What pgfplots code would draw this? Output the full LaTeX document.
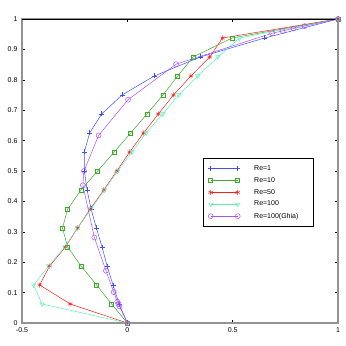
\documentclass[border=0pt]{standalone}
\usepackage{pgfplots}
\pgfplotsset{compat=1.18}
\usepackage{fontspec}
\setmainfont{Liberation Sans}

\definecolor{cRe1}{RGB}{60,80,255}
\definecolor{cRe10}{RGB}{60,170,40}
\definecolor{cRe50}{RGB}{255,30,30}
\definecolor{cRe100}{RGB}{90,240,180}
\definecolor{cGhia}{RGB}{170,80,255}

\begin{document}
\begin{tikzpicture}
\begin{axis}[
  scale only axis,
  width=316pt, height=304pt,
  xmin=-0.5, xmax=1, ymin=0, ymax=1,
  xtick={-0.5,0,0.5,1},
  ytick={0,0.1,0.2,0.3,0.4,0.5,0.6,0.7,0.8,0.9,1},
  xticklabels={-0.5,0,0.5,1},
  yticklabels={0,0.1,0.2,0.3,0.4,0.5,0.6,0.7,0.8,0.9,1},
  tick align=inside,
  major tick length=3pt,
  tick style={black, line width=0.4pt},
  axis line style={draw=gray!85, line width=1.3pt},
  tick label style={font=\fontsize{7}{8}\selectfont},
  yticklabel style={xshift=-1pt},
  xticklabel style={yshift=-1pt},
  every axis plot/.append style={line width=0.5pt, mark size=2.5pt},
  legend cell align=left,
  legend style={at={(axis cs:0.359,0.542)}, anchor=north west,
    draw=black, line width=0.5pt, font=\fontsize{7}{8}\selectfont,
    inner xsep=5pt, inner ysep=5pt, row sep=1.5pt, column sep=12pt},
  legend image code/.code={\draw[#1] plot coordinates {(0pt,0pt) (27pt,0pt)};},
]
% Re=1
\addplot[color=cRe1, mark=+] coordinates {
 (0,0) (-0.039,0.0625) (-0.068,0.125) (-0.096,0.1875) (-0.120,0.25)
 (-0.147,0.3125) (-0.172,0.375) (-0.191,0.4375) (-0.204,0.5)
 (-0.204,0.5625) (-0.179,0.625) (-0.122,0.6875) (-0.025,0.75)
 (0.128,0.8125) (0.346,0.875) (0.652,0.9375) (1,1)};
% Re=10
\addplot[color=cRe10, mark=square, mark size=2pt] coordinates {
 (0,0) (-0.074,0.0625) (-0.146,0.125) (-0.220,0.1875) (-0.283,0.25)
 (-0.308,0.3125) (-0.283,0.375) (-0.220,0.4375) (-0.141,0.5)
 (-0.062,0.5625) (0.016,0.625) (0.093,0.6875) (0.169,0.75)
 (0.239,0.8125) (0.312,0.875) (0.497,0.9375) (1,1)};
% Re=50
\addplot[color=cRe50, mark=asterisk] coordinates {
 (0,0) (-0.271,0.0625) (-0.416,0.125) (-0.369,0.1875) (-0.294,0.25)
 (-0.236,0.3125) (-0.176,0.375) (-0.112,0.4375) (-0.050,0.5)
 (0.011,0.5625) (0.077,0.625) (0.147,0.6875) (0.219,0.75)
 (0.302,0.8125) (0.391,0.875) (0.452,0.9375) (1,1)};
% Re=100
\addplot[color=cRe100, mark=triangle, mark options={rotate=180}] coordinates {
 (0,0) (-0.405,0.0625) (-0.445,0.125) (-0.373,0.1875) (-0.297,0.25)
 (-0.236,0.3125) (-0.172,0.375) (-0.109,0.4375) (-0.046,0.5)
 (0.022,0.5625) (0.089,0.625) (0.168,0.6875) (0.244,0.75)
 (0.334,0.8125) (0.430,0.875) (0.533,0.9375) (1,1)};
% Re=100 (Ghia)
\addplot[color=cGhia, mark=o] coordinates {
 (0,0) (-0.03717,0.0547) (-0.04192,0.0625) (-0.04775,0.0703)
 (-0.06434,0.1016) (-0.10150,0.1719) (-0.15662,0.2813) (-0.21090,0.4531)
 (-0.20581,0.5) (-0.13641,0.6172) (0.00332,0.7344) (0.23151,0.8516)
 (0.68717,0.9531) (0.73722,0.9609) (0.78871,0.9688) (0.84123,0.9766) (1,1)};
\legend{\makebox[52pt][l]{Re=1},Re=10,Re=50,Re=100,Re=100(Ghia)}
\draw[black, line width=0.6pt] (rel axis cs:0,1) -- (rel axis cs:1,1);
\end{axis}
\pgfresetboundingbox
\path[use as bounding box] ([shift={(-22pt,-23pt)}]current axis.south west)
  rectangle ([shift={(8pt,19pt)}]current axis.north east);
\end{tikzpicture}
\end{document}
